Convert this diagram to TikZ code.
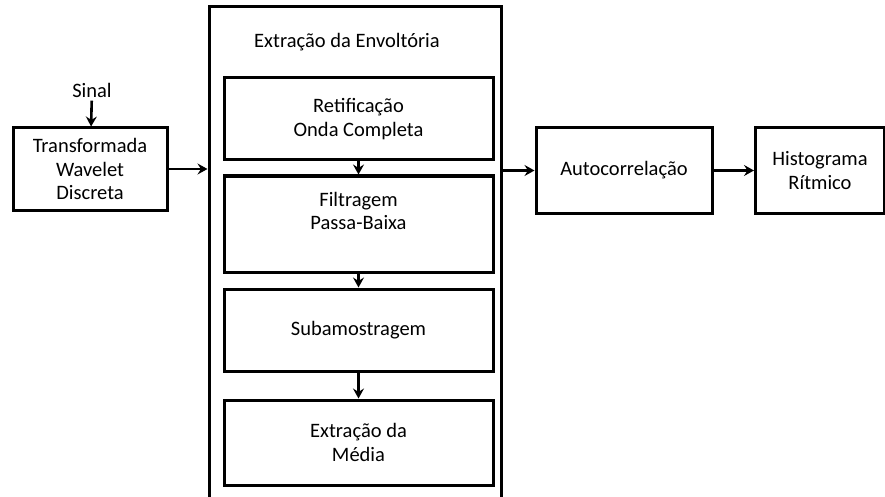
\documentclass[tikz,border=0pt]{standalone}
\usepackage{fontspec}
\setmainfont{Carlito}
\usetikzlibrary{arrows.meta}
\begin{document}
\begin{tikzpicture}[x=1pt,y=-1pt,
        blockbox/.style={draw, line width=3pt, align=center, inner sep=0pt},
        flowarrow/.style={-{Stealth[length=10pt,width=11pt,inset=3.5pt]}, line width=2.6pt}]
        \useasboundingbox (0,0) rectangle (885,497);
        \begin{scope}[every node/.style={font=\fontsize{20.5}{23.5}\selectfont, align=center}]
            \node (sinal) at (92, 90) {Sinal};
            \node[blockbox, minimum width=154pt, minimum height=82pt] (twd) at (90, 169) {Transformada\\Wavelet\\Discreta};
            \node[blockbox, minimum width=292pt, minimum height=513pt] (envbox) at (355, 263.5) {};
            \node (title) at (347, 42) {Extração da Envoltória};
            \node[blockbox, minimum width=269pt, minimum height=82pt] (ret) at (358.5, 119) {Retificação\\Onda Completa};
            \node[blockbox, minimum width=269pt, minimum height=96pt] (filt) at (358.5, 224) {};
            \node (filttext) at (358.5, 211) {Filtragem\\Passa-Baixa};
            \node[blockbox, minimum width=269pt, minimum height=82pt] (sub) at (358.5, 330) {Subamostragem};
            \node[blockbox, minimum width=269pt, minimum height=85pt] (med) at (358.5, 442.5) {Extração da\\Média};
            \node[blockbox, minimum width=176pt, minimum height=85pt] (auto) at (624, 170.5) {Autocorrelação};
            \node[blockbox, minimum width=129pt, minimum height=85pt] (hist) at (820, 170.5) {Histograma\\Rítmico};
        \end{scope}
        \begin{scope}[every path/.style={flowarrow}]
            \path (sinal) edge (twd);
            \path (twd.east) edge (twd.east -| envbox.west);
            \path (ret) edge (filt);
            \path (filt) edge (sub);
            \path (sub) edge (med);
            \path (auto.west -| envbox.east) edge (auto.west);
            \path (auto) edge (hist);
        \end{scope}
    \end{tikzpicture}
\end{document}
